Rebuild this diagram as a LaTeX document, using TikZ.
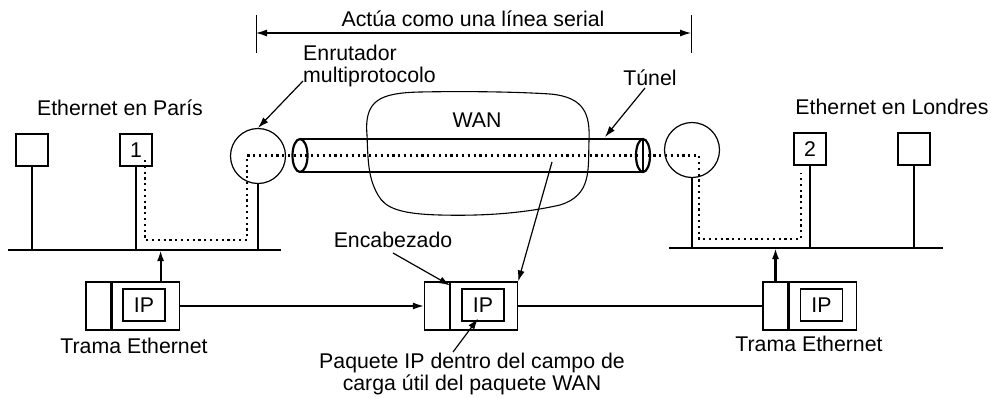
\documentclass[tikz,border=0pt]{standalone}
\usepackage{fontspec}
\setmainfont{Liberation Sans}
\usetikzlibrary{arrows.meta,calc}
\begin{document}
\begin{tikzpicture}[x=1pt,y=-1pt,
  every node/.style={font=\fontsize{21.3}{22}\selectfont},
  host/.style={draw,line width=1.2pt,minimum width=32pt,minimum height=32pt,inner sep=0pt},
  router/.style={draw,circle,line width=1.2pt,minimum size=55pt,inner sep=0pt},
  bus/.style={line width=2.8pt},
  drop/.style={line width=2.2pt},
  pkth/.style={draw,line width=1.1pt,minimum width=25pt,minimum height=48pt,inner sep=0pt},
  pktp/.style={draw,line width=1.1pt,minimum width=67pt,minimum height=48pt,inner sep=0pt},
  ipbox/.style={draw,line width=1.1pt,minimum width=42pt,minimum height=32pt,inner sep=0pt},
  lbl/.style={inner sep=0pt},
  arr/.style={line width=1.2pt,-{Latex[length=11pt,width=7pt]}},
  dotline/.style={line width=2.2pt,dash pattern=on 2.2pt off 3.6pt},
  tube/.style={line width=2.2pt}]
\useasboundingbox (0,0) rectangle (991,397);

% top span
\coordinate (tl) at (256,15); \coordinate (tlb) at (256,53);
\coordinate (tr) at (691,15); \coordinate (trb) at (691,53);
\draw[line width=1pt] (tl) -- (tlb);
\draw[line width=1pt] (tr) -- (trb);
\coordinate (al) at (256,33); \coordinate (ar) at (691,33);
\draw[line width=1.1pt,{Latex[length=11pt,width=7pt]}-{Latex[length=11pt,width=7pt]}] (al) -- (ar);
\node[lbl] (span) at (473,19) {Actúa como una línea serial};

% WAN cloud
\draw[line width=1.1pt] (367,135)
  .. controls (364,100) and (380,93) .. (420,92)
  .. controls (470,91) and (520,92) .. (550,94)
  .. controls (585,97) and (590,115) .. (589,140)
  .. controls (588,170) and (592,195) .. (560,205)
  .. controls (520,214) and (480,216) .. (440,215)
  .. controls (400,214) and (385,208) .. (378,195)
  .. controls (368,178) and (368,160) .. (367,135) -- cycle;
\node[lbl] (wan) at (477,120) {WAN};

% tunnel
\coordinate (tunL) at (300,155.5);
\coordinate (tunR) at (643,155.5);
\draw[tube] (300,139) -- (643,139);
\draw[tube] (300,172) -- (643,172);
\draw[tube] (tunL) ellipse [x radius=7.5,y radius=16.5];
\draw[tube] (tunR) ellipse [x radius=7,y radius=16.5];
\draw[line width=1.3pt] (643,139) -- (643,172);

% hosts and routers
\node[host] (h1) at (32,150) {};
\node[host] (h2) at (136,150) {1};
\node[router] (r1) at (258,156) {};
\node[router] (r2) at (692,150) {};
\node[host] (h3) at (810,149) {2};
\node[host] (h4) at (914,149) {};

% buses
\coordinate (busLa) at (8,250); \coordinate (busLb) at (281,250);
\coordinate (busRa) at (669,248); \coordinate (busRb) at (943,248);
\draw[bus] (busLa) -- (busLb);
\draw[bus] (busRa) -- (busRb);
\draw[drop] (h1.south) -- (h1.south |- busLa);
\draw[drop] (h2.south) -- (h2.south |- busLa);
\draw[drop] (r1.south) -- (r1.south |- busLa);
\draw[drop] (r2.south) -- (r2.south |- busRa);
\draw[drop] (h3.south) -- (h3.south |- busRa);
\draw[drop] (h4.south) -- (h4.south |- busRa);

% dotted path
\coordinate (d0) at (145,160);
\coordinate (d7) at (801,173);
\draw[dotline] (d0) -- (145,240) -- (247,240) -- (247,155.5) -- (699,155.5) -- (699,239) -- (801,239) -- (d7);

% packets
\node[pkth] (p1h) at (98.5,306) {};
\node[pktp,anchor=west] (p1p) at (p1h.east) {};
\node[ipbox] (ip1) at (144,305) {IP};
\node[pkth] (p2h) at (437,306) {};
\node[pktp,anchor=west] (p2p) at (p2h.east) {};
\node[ipbox] (ip2) at (483,305) {IP};
\node[pkth] (p3h) at (775.5,306) {};
\node[pktp,anchor=west] (p3p) at (p3h.east) {};
\node[ipbox] (ip3) at (821.5,305) {IP};

\draw[arr,line width=1.6pt] (p1p.east) -- (p2h.west);
\draw[line width=1.6pt] (p2p.east) -- (p3h.west);
\draw[arr,line width=2.2pt] ([xshift=15pt]p1p.north) -- ([xshift=15pt]p1p.north |- busLa);
\draw[arr,line width=2.2pt] (p3h.north) -- (p3h.north |- busRa);

% labels
\node[lbl] (paris) at (120,108) {Ethernet en París};
\node[lbl] (londres) at (892,107) {Ethernet en Londres};
\node[lbl,align=left,anchor=west] (enr) at (303,66) {Enrutador\\multiprotocolo};
\coordinate (enrA) at (303,81);
\draw[arr] (enrA) -- (r1.north);
\node[lbl] (tunel) at (650,78) {Túnel};
\coordinate (tunA) at (645,88);
\coordinate (tunT) at (605,137);
\draw[arr] (tunA) -- (tunT);
\coordinate (tunIn) at (552,162);
\draw[arr] (tunIn) -- (p2p.north east);
\node[lbl] (enc) at (393,240) {Encabezado};
\coordinate (encA) at (393,253);
\draw[arr] (encA) -- ([yshift=-4pt]p2h.north east);
\node[lbl,align=center] (paq) at (472,374) {Paquete IP dentro del campo de\\carga útil del paquete WAN};
\coordinate (paqA) at (453,352);
\draw[arr] (paqA) -- ([xshift=-5pt,yshift=3pt]ip2.south);
\node[lbl] (tr1) at (134,346) {Trama Ethernet};
\node[lbl] (tr3) at (809,344) {Trama Ethernet};
\end{tikzpicture}
\end{document}
